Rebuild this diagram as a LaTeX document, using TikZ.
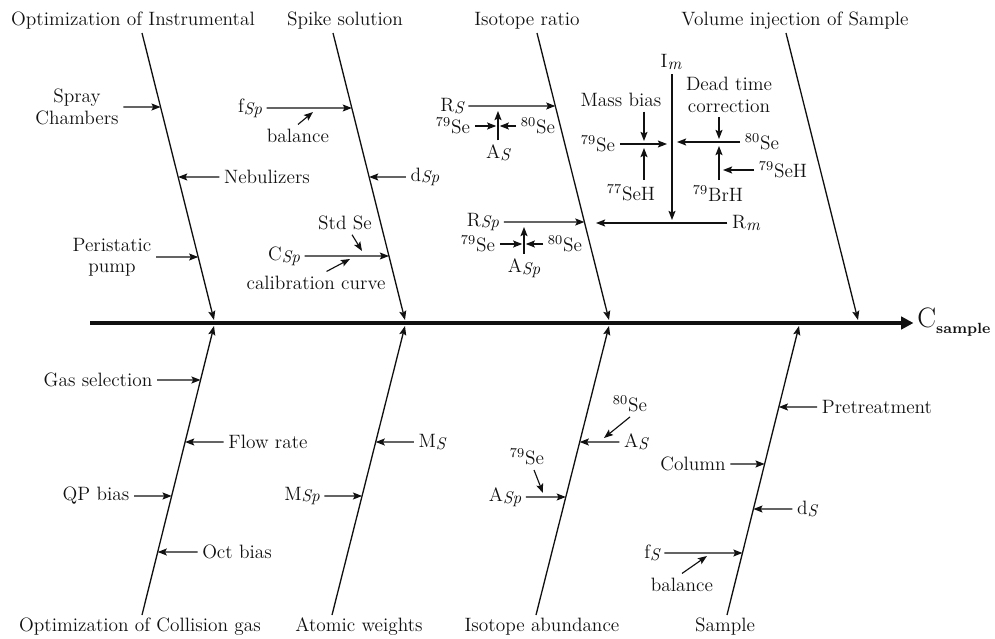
\documentclass[tikz,border=0pt]{standalone}
\usepackage{tikz}
\usetikzlibrary{positioning, arrows.meta, calc}
\definecolor{InkBlack}{HTML}{111111}

% italic index (Sp, S, m) and isotope mass number
\newcommand{\ix}[1]{\raisebox{-0.2ex}{\fontsize{9.6}{10}\selectfont\itshape #1}}
\newcommand{\iso}[2]{\textsuperscript{#1}#2}

\tikzset{
  lbl/.style={font=\fontsize{11}{12.2}\selectfont, inner sep=2.5pt, align=center, text=InkBlack},
  head/.style={lbl, inner sep=1pt},
  tip/.style={-{Stealth[length=5.2pt,width=4pt,inset=1pt]}, line width=0.65pt, draw=InkBlack},
  bone/.style={tip, line width=0.75pt},
  spine/.style={-{Triangle[length=7pt,width=7pt]}, line width=1.8pt, draw=InkBlack},
}

\begin{document}
\begin{tikzpicture}[x=0.02cm, y=-0.02cm]
  \useasboundingbox (0,0) rectangle (995,639);

  %% Main spine and effect
  \coordinate (spL) at (90,323);
  \node[anchor=west, inner sep=0pt, font=\fontsize{16}{18}\selectfont, text=InkBlack] (csample) at (917,322)
    {C\raisebox{-0.5ex}{\fontsize{8.4}{9}\selectfont\bfseries sample}};
  \draw[spine] (spL) -- ([xshift=-2pt]spL -| csample.west);

  %% Bones: name/top x/bottom x
  \foreach \nm/\xa/\xb in {bA/142/214, bB/333/405, bC/537/609, bD/786/858}{
    \coordinate (\nm t) at (\xa,33);
    \coordinate (\nm b) at (\xb,320);
    \draw[bone] (\nm t) -- (\nm b);
  }
  \foreach \nm/\xa/\xb in {bE/214/142, bF/405/332, bG/609/536, bH/799/727}{
    \coordinate (\nm t) at (\xa,326);
    \coordinate (\nm b) at (\xb,615);
    \draw[bone] (\nm b) -- (\nm t);
  }

  %% Category heads
  \foreach \nm/\x/\txt in {tA/133/{Optimization of Instrumental}, tB/345/{Spike solution},
                            tC/527/{Isotope ratio}, tD/795/{Volume injection of Sample}}{
    \node[head] (\nm) at (\x,21) {\txt};
  }
  \foreach \nm/\x/\txt in {tE/140/{Optimization of Collision gas}, tF/359/{Atomic weights},
                            tG/542/{Isotope abundance}, tH/725/{Sample}}{
    \node[head] (\nm) at (\x,627) {\txt};
  }

  %% Causes on the upper bones: name/x/y/text/bone
  \foreach \nm/\x/\y/\txt/\bn in {
    spray/77/107/{Spray\\Chambers}/bA,
    neb/267/177/{Nebulizers}/bA,
    peri/112/257/{Peristatic\\pump}/bA,
    fsp/250/108/{f\ix{Sp}}/bB,
    dsp/425/177/{d\ix{Sp}}/bB,
    csp/284/256/{C\ix{Sp}}/bB,
    rs/452/106/{R\ix{S}}/bC,
    rsp/483/222/{R\ix{Sp}}/bC}{
    \node[lbl] (\nm) at (\x,\y) {\txt};
    \coordinate (\nm-on) at ($(\bn t)!{(\y-33)/287}!(\bn b)$);
    \draw[tip] (\nm) -- (\nm-on);
  }

  %% Causes on the lower bones
  \foreach \nm/\x/\y/\txt/\bn in {
    gas/98/380/{Gas selection}/bE,
    flow/268/442/{Flow rate}/bE,
    qp/96/496/{QP bias}/bE,
    oct/237/552/{Oct bias}/bE,
    ms/432/442/{M\ix{S}}/bF,
    msp/302/496/{M\ix{Sp}}/bF,
    asl/636/442/{A\ix{S}}/bG,
    aspl/505/497/{A\ix{Sp}}/bG,
    pre/877/407/{Pretreatment}/bH,
    col/693/464/{Column}/bH,
    ds/807/509/{d\ix{S}}/bH,
    fs/652/553/{f\ix{S}}/bH}{
    \node[lbl] (\nm) at (\x,\y) {\txt};
    \coordinate (\nm-on) at ($(\bn t)!{(\y-326)/289}!(\bn b)$);
    \draw[tip] (\nm) -- (\nm-on);
  }

  %% Sub-causes (slanted pointers)
  \node[lbl] (bal1) at (298,136) {balance};
  \coordinate (bal1Tip) at (313,112);
  \draw[tip] (bal1.north) -- (bal1Tip);

  \node[lbl] (stdse) at (345,223) {Std Se};
  \coordinate (stdTip) at (362,251);
  \draw[tip] ([xshift=4pt]stdse.south) -- (stdTip);

  \node[lbl] (calib) at (316,283) {calibration curve};
  \coordinate (calTip) at (350,259);
  \draw[tip] ([xshift=6pt]calib.north) -- (calTip);

  \node[lbl] (se80d) at (630,404) {\iso{80}Se};
  \coordinate (se80dTip) at (604,438);
  \draw[tip] (se80d.south) -- (se80dTip);

  \node[lbl] (se79d) at (527,457) {\iso{79}Se};
  \coordinate (se79dTip) at (543,493);
  \draw[tip] ([xshift=4pt]se79d.south) -- (se79dTip);

  \node[lbl] (bal2) at (682,585) {balance};
  \coordinate (bal2Tip) at (707,556);
  \draw[tip] (bal2.north) -- (bal2Tip);

  %% Abundances of sample and spike
  \node[lbl] (asU) at (498,153) {A\ix{S}};
  \coordinate (asTip) at (498,111);
  \draw[tip] (asU) -- (asTip);
  \node[lbl] (se79a) at (453,126) {\iso{79}Se};
  \node[lbl] (se80a) at (538,126) {\iso{80}Se};
  \draw[tip, shorten >=1pt] (se79a) -- (se79a -| asTip);
  \draw[tip, shorten >=1pt] (se80a) -- (se80a -| asTip);

  \node[lbl] (aspU) at (524,268) {A\ix{Sp}};
  \coordinate (aspTip) at (524,227);
  \draw[tip] (aspU) -- (aspTip);
  \node[lbl] (se79b) at (478,244) {\iso{79}Se};
  \node[lbl] (se80b) at (565,244) {\iso{80}Se};
  \draw[tip, shorten >=1pt] (se79b) -- (se79b -| aspTip);
  \draw[tip, shorten >=1pt] (se80b) -- (se80b -| aspTip);

  %% Measured intensity and ratio
  \node[lbl] (im) at (671,62) {I\ix{m}};
  \coordinate (imEnd) at (672,220);
  \draw[tip] (im.south -| imEnd) -- (imEnd);

  \node[lbl] (rm) at (746,223) {R\ix{m}};
  \coordinate (rmHit) at (596,223);
  \draw[tip] (rm) -- (rmHit);

  % mass bias
  \node[lbl] (massbias) at (621,100) {Mass bias};
  \node[lbl] (se79c) at (598,144) {\iso{79}Se};
  \node[lbl] (seh77) at (631,193) {\iso{77}SeH};
  \coordinate (imHitL) at (667,144);
  \coordinate (mbHit) at (644,141);
  \coordinate (mbUp) at (644,148);
  \draw[tip] (se79c) -- (imHitL);
  \draw[tip] (massbias.south -| mbHit) -- (mbHit);
  \draw[tip] (seh77.north -| mbUp) -- (mbUp);

  % dead time
  \node[lbl] (dtc) at (729,95) {Dead time\\correction};
  \node[lbl] (se80c) at (762,142) {\iso{80}Se};
  \node[lbl] (brh79) at (718,193) {\iso{79}BrH};
  \node[lbl] (seh79) at (783,170) {\iso{79}SeH};
  \coordinate (imHitR) at (677,142);
  \coordinate (dtHit) at (719,139);
  \coordinate (dtUp) at (719,146);
  \coordinate (dtSide) at (723,170);
  \draw[tip] (se80c) -- (imHitR);
  \draw[tip] (dtc.south -| dtHit) -- (dtHit);
  \draw[tip] (brh79.north -| dtUp) -- (dtUp);
  \draw[tip] (seh79) -- (dtSide);

\end{tikzpicture}
\end{document}
